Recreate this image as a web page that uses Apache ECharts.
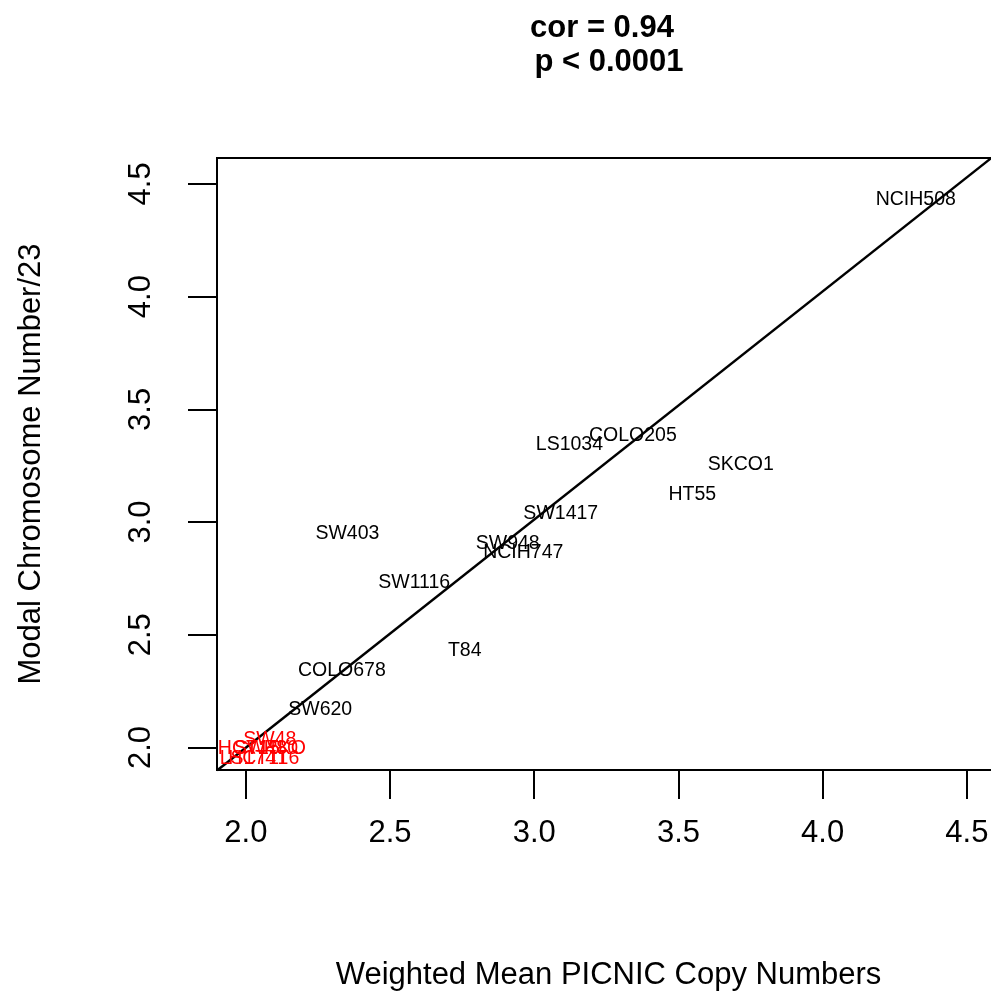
<!DOCTYPE html>
<html>
<head>
<meta charset="utf-8">
<script src="https://cdn.jsdelivr.net/npm/echarts@6/dist/echarts.min.js"></script>
<style>
  html, body { margin: 0; padding: 0; background: #fff; }
  #chart { width: 991px; height: 991px; }
</style>
</head>
<body>
<div id="chart"></div>
<script>
// cell lines drawn in black
const blackNames = ['NCIH508', 'LS1034', 'COLO205', 'SKCO1', 'HT55', 'SW1417', 'SW403',
  'SW948', 'NCIH747', 'SW1116', 'T84', 'COLO678', 'SW620'];
const blackX = [4.323, 3.122, 3.342, 3.716, 3.548, 3.092, 2.352, 2.908, 2.962, 2.584, 2.759, 2.333, 2.258];
const blackY = [4.435, 3.348, 3.391, 3.261, 3.130, 3.043, 2.957, 2.913, 2.870, 2.739, 2.435, 2.348, 2.174];

// near-diploid cell lines drawn in red
const redNames = ['SW48', 'HCT15', 'SW480', 'RKO', 'LS174T', 'HCT116'];
const redX = [2.083, 2.01, 2.07, 2.135, 2.028, 2.062];
const redY = [2.043, 2.0, 2.0, 2.0, 1.957, 1.957];

// fitted line
const regSlope = 1.012;
const regIntercept = -0.025;
const lineX = [1.9, 4.615];

const xTicks = [2.0, 2.5, 3.0, 3.5, 4.0, 4.5];
const yTicks = [2.0, 2.5, 3.0, 3.5, 4.0, 4.5];

const FONT = '"Liberation Sans", Arial, Helvetica, sans-serif';

function pts(names, xs, ys) {
  return names.map((n, i) => ({ name: n, value: [xs[i], ys[i]] }));
}

function labelSeries(names, xs, ys, color) {
  return {
    type: 'scatter',
    symbolSize: 1,
    itemStyle: { color: 'rgba(0,0,0,0)', opacity: 1 },
    label: {
      show: true,
      position: 'inside',
      offset: [0, 1.5],
      formatter: '{b}',
      color: color,
      fontFamily: FONT,
      fontSize: 19.5
    },
    data: pts(names, xs, ys),
    z: 3
  };
}

const chart = echarts.init(document.getElementById('chart'));

const option = {
  animation: false,
  backgroundColor: '#fff',
  title: [
    {
      text: 'cor = 0.94',
      left: 597,
      top: 8,
      textAlign: 'center',
      textStyle: { fontFamily: FONT, fontSize: 31, fontWeight: 'bold', color: '#000' }
    },
    {
      text: 'p < 0.0001',
      left: 604,
      top: 42,
      textAlign: 'center',
      textStyle: { fontFamily: FONT, fontSize: 31, fontWeight: 'bold', color: '#000' }
    }
  ],
  grid: {
    left: 217,
    top: 158,
    width: 783,
    height: 612,
    outerBoundsMode: 'none',
    containLabel: false,
    show: true,
    borderColor: '#000',
    borderWidth: 2,
    backgroundColor: 'transparent'
  },
  xAxis: {
    type: 'value',
    min: 1.9,
    max: 4.615,
    name: 'Weighted Mean PICNIC Copy Numbers',
    nameLocation: 'middle',
    nameGap: 190,
    nameTextStyle: { fontFamily: FONT, fontSize: 31, color: '#000' },
    axisLine: { show: false },
    axisTick: {
      show: true,
      length: 29,
      inside: false,
      customValues: xTicks,
      lineStyle: { color: '#000', width: 2 }
    },
    axisLabel: {
      customValues: xTicks,
      margin: 48,
      fontFamily: FONT,
      fontSize: 31,
      color: '#000',
      formatter: v => v.toFixed(1)
    },
    splitLine: { show: false }
  },
  yAxis: {
    type: 'value',
    min: 1.9,
    max: 4.615,
    name: 'Modal Chromosome Number/23',
    nameLocation: 'middle',
    nameRotate: 90,
    nameGap: 170,
    nameTextStyle: { fontFamily: FONT, fontSize: 31, color: '#000' },
    axisLine: { show: false },
    axisTick: {
      show: true,
      length: 29,
      inside: false,
      customValues: yTicks,
      lineStyle: { color: '#000', width: 2 }
    },
    axisLabel: {
      customValues: yTicks,
      rotate: 90,
      margin: 60,
      fontFamily: FONT,
      fontSize: 31,
      color: '#000',
      formatter: v => v.toFixed(1)
    },
    splitLine: { show: false }
  },
  series: [
    {
      type: 'line',
      symbol: 'none',
      clip: true,
      lineStyle: { color: '#000', width: 2.5 },
      data: lineX.map(x => [x, regIntercept + regSlope * x]),
      z: 2
    },
    labelSeries(blackNames, blackX, blackY, '#000'),
    labelSeries(redNames, redX, redY, '#ff0000')
  ]
};

chart.setOption(option);
</script>
</body>
</html>
